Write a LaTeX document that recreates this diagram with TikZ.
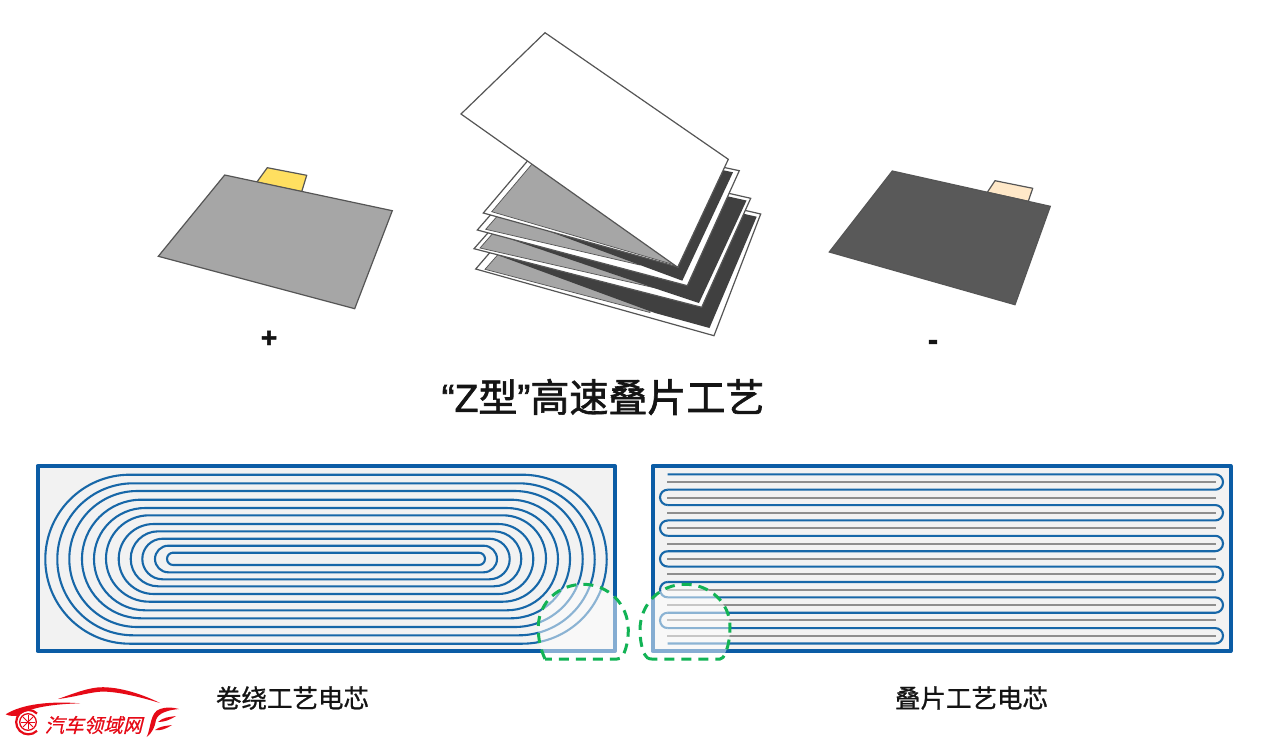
\documentclass[tikz,border=0pt]{standalone}
\usepackage{fontspec}
\setmainfont{Noto Sans CJK SC}
\newfontfamily\latinf[FakeBold=1.6]{Liberation Sans}
\newfontfamily\cjkf[FakeBold=1.6]{Noto Sans CJK SC}
\newfontfamily\capf[FakeBold=0.9]{Noto Sans CJK SC}
\newfontfamily\logof[FakeSlant=0.25,FakeBold=0.6]{Noto Sans CJK SC}
\definecolor{boxblue}{HTML}{0B5CA5}
\definecolor{wirecol}{HTML}{1767A8}
\definecolor{pale}{HTML}{F2F2F2}
\definecolor{sepgrey}{HTML}{8E8E8E}
\definecolor{edgecol}{HTML}{555555}
\definecolor{lightsheet}{HTML}{A6A6A6}
\definecolor{darksheet}{HTML}{404040}
\definecolor{negsheet}{HTML}{595959}
\definecolor{tabyellow}{HTML}{FFDF60}
\definecolor{tabcream}{HTML}{FFE8C8}
\definecolor{dashgreen}{HTML}{12B355}
\definecolor{logored}{HTML}{E60A17}
\tikzset{
  sheetline/.style={draw=edgecol,line width=1.2pt,line join=miter},
  sep/.style={sheetline,fill=white},
  lsheet/.style={fill=lightsheet,draw=edgecol,line width=0.7pt},
  frame/.style={draw=boxblue,line width=4pt,fill=pale,line join=round},
  wire/.style={draw=wirecol,line width=2.1pt},
  spacer/.style={draw=sepgrey,line width=2pt},
  dome/.style={draw=dashgreen,line width=3pt,dash pattern=on 10pt off 7pt,fill=white,fill opacity=0.5,draw opacity=1},
  caption/.style={inner sep=0pt,text=black!92},
  logopart/.style={fill=logored,draw=none}
}
\begin{document}
\begin{tikzpicture}[x=1pt,y=-1pt]
\useasboundingbox (0,0) rectangle (1269,742);
\fill[white] (0,0) rectangle (1269,742);

% positive sheet
\draw[sheetline,fill=tabyellow] (267.3,167.7) -- (306.7,175.3) -- (301.7,191.7) -- (256.7,182.3) -- cycle;
\draw[sheetline,fill=lightsheet] (224.7,175) -- (392.3,210.7) -- (354.7,308.7) -- (158.3,256.3) -- cycle;
% negative sheet
\draw[sheetline,fill=tabcream] (995,180.7) -- (1032.7,188.3) -- (1028.3,201.3) -- (987.3,192.3) -- cycle;
\draw[sheetline,fill=negsheet] (892.3,171) -- (1050.3,206.3) -- (1015,304.7) -- (829.3,252) -- cycle;

% stack, painted from the bottom up
\draw[sep] (475.7,269) -- (505,235) -- (700,200) -- (760.7,214) -- (714,335.7) -- cycle;
\draw[lsheet] (485,269.3) -- (509,242) -- (650,270) -- (650,312.5) -- cycle;
\fill[darksheet] (500,256) -- (655,313) -- (709.5,328) -- (756.7,216.7) -- (700,204) -- (560,230) -- cycle;
\draw[sep] (474,248.7) -- (504,214.7) -- (690,184.5) -- (750.7,198.3) -- (701.7,307.3) -- cycle;
\draw[lsheet] (480,248) -- (504,220.6) -- (660,250) -- (660,289) -- cycle;
\fill[darksheet] (507,238) -- (660,290) -- (699,303) -- (746.5,200.5) -- (690,188) -- (560,212) -- cycle;
\draw[sep] (477.3,230) -- (507,196) -- (680,158) -- (739.3,170.7) -- (687.3,285.7) -- cycle;
\draw[lsheet] (485.7,229.3) -- (509.7,201.9) -- (640,230) -- (640,265) -- cycle;
\fill[darksheet] (513,218) -- (682.3,280.7) -- (733,172.3) -- (680,161) -- (560,195) -- cycle;
\draw[sep] (483.3,213) -- (530,158) -- (650,150) -- (678.3,267) -- cycle;
\draw[lsheet] (491.7,211.7) -- (532,164) -- (650,160) -- (675,265) -- cycle;
\draw[sep] (545,32.7) -- (728.3,159.3) -- (677.7,267.3) -- (461,114) -- cycle;

% wound cell
\draw[frame] (37.5,466) rectangle (615,651);
\begin{scope}[y=1pt]
\foreach \lft/\tp/\bt in {45.3/474.7/643.7,57.3/483.3/635.3,69.3/491/627,82/499.7/618.3,94/508/610.3,106/515.3/601.7,118.7/524/594,130.7/531.3/586.3,142.3/538.7/579.3,155/545.7/572.3,167/552.7/565}{
  \pgfmathsetmacro{\rad}{(\bt-\tp)/2}
  \draw[wire] ({\lft+\rad},-\tp) -- ({652-\lft-\rad},-\tp) arc[start angle=90,end angle=-90,radius=\rad]
    -- ({\lft+\rad},-\bt) arc[start angle=270,end angle=90,radius=\rad] -- cycle;
}
\end{scope}

% stacked cell
\draw[frame] (652.5,466) rectangle (1230.5,651);
\foreach \yy in {482,498,513,528,544,559,574,590,605,620,636}{
  \draw[spacer] (667.3,\yy) -- (1215.7,\yy);
}
\begin{scope}[y=1pt]
\foreach \k in {0,...,5}{
  \pgfmathsetmacro{\ya}{474.3+30.76*\k}
  \pgfmathsetmacro{\yb}{\ya+15.38}
  \draw[wire] (667.7,-\ya) -- (1215.3,-\ya) arc[start angle=90,end angle=-90,radius=7.69] -- (667.7,-\yb);
}
\foreach \k in {0,...,4}{
  \pgfmathsetmacro{\ya}{489.68+30.76*\k}
  \draw[wire] (667.7,-\ya) arc[start angle=90,end angle=270,radius=7.69];
}
\end{scope}

% highlights
\draw[dome] (545,659) .. controls (541,650) and (538,640) .. (538.3,626)
  .. controls (539,603) and (558,584.3) .. (583.3,584.3)
  .. controls (608,584.3) and (628.3,604) .. (628.3,630)
  .. controls (628.3,640) and (626,650) .. (623,655)
  .. controls (622,658) and (620,659) .. (617,659) -- cycle;
\draw[dome] (651.7,659) .. controls (648,659) and (646,657) .. (645,655)
  .. controls (642,650) and (640,640) .. (640,630)
  .. controls (640,604) and (660,584.3) .. (685,584.3)
  .. controls (710,584.3) and (730,603) .. (730,626.7)
  .. controls (730,638) and (728,648) .. (725,653)
  .. controls (724,657) and (722,659) .. (720,659) -- cycle;

% texts
\node[caption,font={\latinf\bfseries\fontsize{28}{28}\selectfont}] (plus) at (269,339) {+};
\node[caption,font={\latinf\bfseries\fontsize{30}{30}\selectfont}] (minus) at (933,345) {-};
\node[caption,font={\cjkf\fontsize{39}{39}\selectfont}] (title) at (603,397) {{\latinf “Z}型{\latinf ”}高速叠片工艺};
\node[caption,font={\capf\fontsize{25.5}{26}\selectfont}] (leftcap) at (292.5,698) {卷绕工艺电芯};
\node[caption,font={\capf\fontsize{25.5}{26}\selectfont}] (rightcap) at (971.5,698) {叠片工艺电芯};

% logo
\fill[logopart] (5.7,714.3) .. controls (22,704) and (50,701) .. (80,703.3)
  .. controls (55,704) and (30,707) .. (17,716) .. controls (13,716) and (9,716) .. (5.7,714.3) -- cycle;
\fill[logopart] (58,699) .. controls (75,693) and (90,687) .. (103,687.2)
  .. controls (125,687.5) and (148,697) .. (160,703)
  .. controls (140,697) and (120,692) .. (103,691.5)
  .. controls (90,692) and (75,697) .. (58,699) -- cycle;
\draw[logored,line width=2.2pt] (37,713.5) arc[start angle=-45,end angle=-315,radius=12.2];
\draw[logored,line width=1.3pt] (28,722) circle[radius=8.3];
\foreach \a in {0,45,90,135}{
  \draw[logored,line width=0.9pt] (28,722) ++(\a:7) -- ++(\a+180:14);
}
\fill[logopart] (146.7,737) .. controls (151,728) and (150,712) .. (160,709)
  .. controls (166,707) and (172,707) .. (179,709)
  .. controls (168,710) and (158,713) .. (156,720)
  .. controls (155,727) and (152,733) .. (146.7,737) -- cycle;
\fill[logopart] (158,722) .. controls (163,717) and (170,717) .. (176,716)
  .. controls (170,720) and (164,722) .. (158,722) -- cycle;
\fill[logopart] (155,730) .. controls (160,726) and (166,726) .. (172,725)
  .. controls (166,729) and (160,731) .. (155,730) -- cycle;
\node[inner sep=0pt,text=logored,font={\logof\fontsize{19.5}{20}\selectfont}] (logotext) at (93.5,725) {汽车领域网};
\end{tikzpicture}
\end{document}
